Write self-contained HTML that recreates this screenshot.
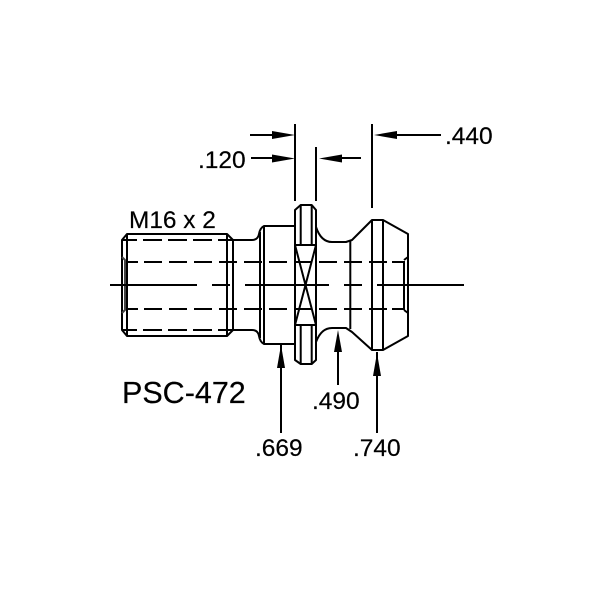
<!DOCTYPE html>
<html>
<head>
<meta charset="utf-8">
<style>
html,body{margin:0;padding:0;background:#fff;}
svg{display:block;}
text{font-family:"Liberation Sans",sans-serif;fill:#000;stroke:#000;stroke-width:0.2px;}
</style>
</head>
<body>
<svg width="600" height="600" viewBox="0 0 600 600" xmlns="http://www.w3.org/2000/svg">
<rect width="600" height="600" fill="#fff"/>
<g fill="none" stroke="#000" stroke-width="2" stroke-linejoin="round">
  <!-- thread -->
  <path d="M122 240L127 234H227L233 240V330L227 336H127L122 330Z"/>
  <path d="M127 234V336M227 234V336M122 240H127M122 330H127M227 240H233M227 330H233"/>
  <path d="M122 257L125 260V310L122 313" stroke="#444"/>
  <!-- neck and shoulder -->
  <path d="M233 240H252Q258 240 259 234Q260 228 264 226H295M233 330H252Q258 330 259 336Q260 342 264 344H295"/>
  <path d="M260 232V338M264 226V344"/>
  <!-- flange -->
  <path d="M295 210L300.7 205H311.7L316 210V360L311.7 364H300.7L295 360Z"/>
  <path d="M300.7 205V245M311.7 205V245M300.7 325V364M311.7 325V364M295 245H316M295 325H316"/>
  <path d="M295 245L316 325M316 245L295 325"/>
  <!-- head -->
  <path d="M316 227C319 236 324 242 332 242H346L352 240L372 220H383L408 234V336L383 350H372L352 332L346 328H332C324 328 319 334 316 342"/>
  <path d="M350.3 241V329M372 220V350M383 220V350M404 262V308M404 260L408 257M404 310L408 313"/>
</g>
<!-- hidden lines -->
<g fill="none" stroke="#000" stroke-width="2">
  <path d="M127 240H137M218 240H227M127 330H137M218 330H227"/>
  <path d="M143 240H212" stroke-dasharray="19 6"/>
  <path d="M143 330H212" stroke-dasharray="19 6"/>
  <path d="M127 262H138M392 262H405M127 309H138M392 309H405"/>
  <path d="M144 262H387" stroke-dasharray="18 7"/>
  <path d="M144 309H387" stroke-dasharray="18 7"/>
  <!-- centre line -->
  <path d="M110 285H197M212 285H230M245 285H329M344 285H362M377 285H464"/>
  <!-- dimension lines -->
  <path d="M295 124V201M316 147V201M372 124V208"/>
  <path d="M250 135H280M251 158H280M335 158H361M390 135H441"/>
  <path d="M281 345V433M338 340V385M377 352V433"/>
</g>
<!-- arrowheads -->
<g fill="#000">
  <path d="M272 131L295 135L272 139Z"/>
  <path d="M272 154.5L295 158.5L272 162.5Z"/>
  <path d="M342 154.5L319 158.5L342 162.5Z"/>
  <path d="M397 131L374 135L397 139Z"/>
  <path d="M281 345L285 368H277Z"/>
  <path d="M338 330L342 352H334Z"/>
  <path d="M377 353L381 376H373Z"/>
</g>
<text x="445" y="144" font-size="24.5">.440</text>
<text x="198" y="168" font-size="24.5">.120</text>
<text x="129" y="228" font-size="24.4">M16 x 2</text>
<text x="122" y="403" font-size="30.5">PSC-472</text>
<text x="312" y="409" font-size="24.5">.490</text>
<text x="255" y="456" font-size="24.5">.669</text>
<text x="353" y="456" font-size="24.5">.740</text>
</svg>
</body>
</html>
